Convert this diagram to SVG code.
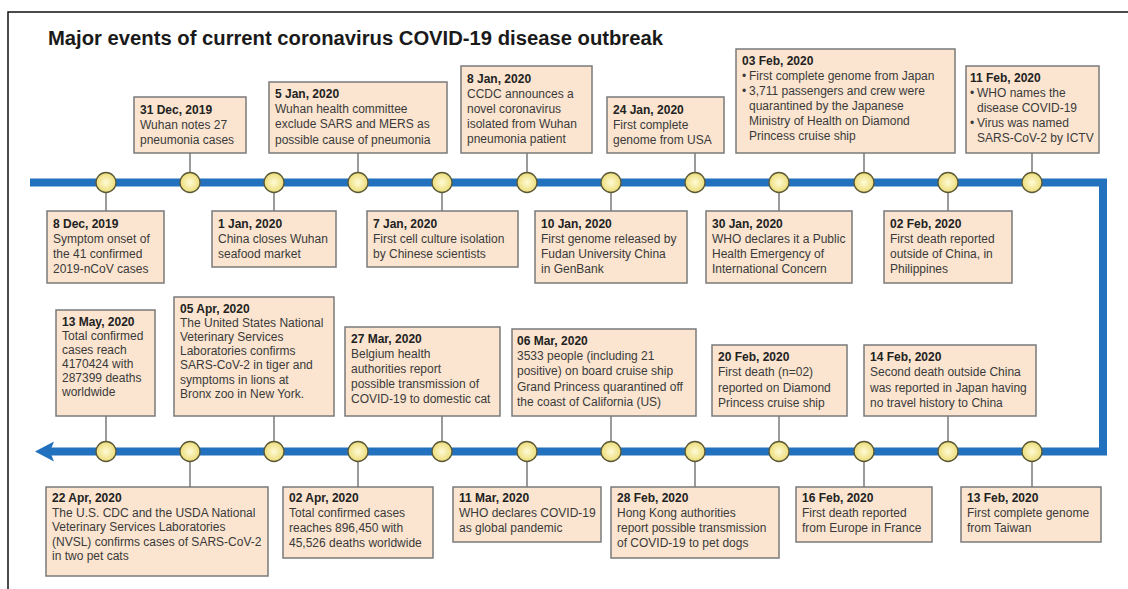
<svg xmlns="http://www.w3.org/2000/svg" width="1128" height="589" viewBox="0 0 1128 589">
<defs>
<radialGradient id="dot" cx="50%" cy="50%" r="50%">
<stop offset="0" stop-color="#fffbd6"/>
<stop offset="1" stop-color="#ecdc78"/>
</radialGradient>
<style>
.bx{fill:#fbe5d0;stroke:#7a7a7a;stroke-width:1.5}
.t{font-family:"Liberation Sans",Arial,sans-serif;font-size:12px;fill:#3a3a3a}
.d{font-weight:bold;fill:#222}
.c{stroke:#666;stroke-width:1.3;fill:none}
.dt{fill:url(#dot);stroke:#5a5836;stroke-width:1.3}
.tl{fill:none;stroke:#2171be;stroke-width:8}
</style>
</defs>
<rect width="1128" height="589" fill="#fff"/>
<path d="M8,589 V12 H1128" fill="none" stroke="#111" stroke-width="1.5"/>
<text x="48" y="45" font-family="Liberation Sans,Arial,sans-serif" font-weight="bold" font-size="20" fill="#1a1a1a" textLength="615" lengthAdjust="spacingAndGlyphs">Major events of current coronavirus COVID-19 disease outbreak</text>

<g id="timeline">
<path class="tl" d="M30,182.5 H1103 V451.5 H50"/>
<polygon points="35,451.5 54,441.5 50,451.5 54,461.5" fill="#2171be"/>
</g>

<g id="connectors">
<path class="c" d="M190,153 V182 M358,153 V182 M527,153 V182 M695,153 V182 M864,153 V182 M1032,153 V182"/>
<path class="c" d="M106,182 V211 M274,182 V211 M442,182 V211 M611,182 V211 M779,182 V211 M948,182 V211"/>
<path class="c" d="M106,416 V451 M274,416 V451 M442,416 V451 M611,416 V451 M779,416 V451 M948,416 V451"/>
<path class="c" d="M190,451 V487 M358,451 V487 M527,451 V487 M695,451 V487 M864,451 V487 M1032,451 V487"/>
</g>

<g id="dots">
<circle class="dt" cx="106" cy="182.5" r="10"/><circle class="dt" cx="190" cy="182.5" r="10"/><circle class="dt" cx="274" cy="182.5" r="10"/><circle class="dt" cx="358" cy="182.5" r="10"/><circle class="dt" cx="442" cy="182.5" r="10"/><circle class="dt" cx="527" cy="182.5" r="10"/><circle class="dt" cx="611" cy="182.5" r="10"/><circle class="dt" cx="695" cy="182.5" r="10"/><circle class="dt" cx="779" cy="182.5" r="10"/><circle class="dt" cx="864" cy="182.5" r="10"/><circle class="dt" cx="948" cy="182.5" r="10"/><circle class="dt" cx="1032" cy="182.5" r="10"/>
<circle class="dt" cx="106" cy="451.5" r="10"/><circle class="dt" cx="190" cy="451.5" r="10"/><circle class="dt" cx="274" cy="451.5" r="10"/><circle class="dt" cx="358" cy="451.5" r="10"/><circle class="dt" cx="442" cy="451.5" r="10"/><circle class="dt" cx="527" cy="451.5" r="10"/><circle class="dt" cx="611" cy="451.5" r="10"/><circle class="dt" cx="695" cy="451.5" r="10"/><circle class="dt" cx="779" cy="451.5" r="10"/><circle class="dt" cx="864" cy="451.5" r="10"/><circle class="dt" cx="948" cy="451.5" r="10"/><circle class="dt" cx="1032" cy="451.5" r="10"/>
</g>

<g id="n-31dec"><rect class="bx" x="134" y="97" width="112" height="56"/>
<text class="t" y="113.5"><tspan class="d" x="140">31 Dec, 2019</tspan><tspan x="140" dy="15.2">Wuhan notes 27</tspan><tspan x="140" dy="15.2">pneumonia cases</tspan></text></g>

<g id="n-5jan"><rect class="bx" x="269" y="82" width="178" height="71"/>
<text class="t" y="98"><tspan class="d" x="275">5 Jan, 2020</tspan><tspan x="275" dy="15.2">Wuhan health committee</tspan><tspan x="275" dy="15.2">exclude SARS and MERS as</tspan><tspan x="275" dy="15.2">possible cause of pneumonia</tspan></text></g>

<g id="n-8jan"><rect class="bx" x="461" y="66" width="131" height="87"/>
<text class="t" y="82.5"><tspan class="d" x="467">8 Jan, 2020</tspan><tspan x="467" dy="15.2">CCDC announces a</tspan><tspan x="467" dy="15.2">novel coronavirus</tspan><tspan x="467" dy="15.2">isolated from Wuhan</tspan><tspan x="467" dy="15.2">pneumonia patient</tspan></text></g>

<g id="n-24jan"><rect class="bx" x="607" y="97" width="117" height="56"/>
<text class="t" y="113.5"><tspan class="d" x="613">24 Jan, 2020</tspan><tspan x="613" dy="15.2">First complete</tspan><tspan x="613" dy="15.2">genome from USA</tspan></text></g>

<g id="n-03feb"><rect class="bx" x="736" y="49" width="219" height="104"/>
<text class="t" y="65"><tspan class="d" x="742">03 Feb, 2020</tspan><tspan x="742" dy="15">•</tspan><tspan x="749">First complete genome from Japan</tspan><tspan x="742" dy="15">•</tspan><tspan x="749">3,711 passengers and crew were</tspan><tspan x="749" dy="15">quarantined by the Japanese</tspan><tspan x="749" dy="15">Ministry of Health on Diamond</tspan><tspan x="749" dy="15">Princess cruise ship</tspan></text></g>

<g id="n-11feb"><rect class="bx" x="966" y="66" width="133" height="87"/>
<text class="t" y="82"><tspan class="d" x="970">11 Feb, 2020</tspan><tspan x="970" dy="15">•</tspan><tspan x="977">WHO names the</tspan><tspan x="977" dy="15">disease COVID-19</tspan><tspan x="970" dy="15">•</tspan><tspan x="977">Virus was named</tspan><tspan x="977" dy="15">SARS-CoV-2 by ICTV</tspan></text></g>

<g id="n-8dec"><rect class="bx" x="47" y="211" width="117" height="72"/>
<text class="t" y="227.5"><tspan class="d" x="53">8 Dec, 2019</tspan><tspan x="53" dy="15.2">Symptom onset of</tspan><tspan x="53" dy="15.2">the 41 confirmed</tspan><tspan x="53" dy="15.2">2019-nCoV cases</tspan></text></g>

<g id="n-1jan"><rect class="bx" x="212" y="211" width="124" height="56"/>
<text class="t" y="227.5"><tspan class="d" x="218">1 Jan, 2020</tspan><tspan x="218" dy="15.2">China closes Wuhan</tspan><tspan x="218" dy="15.2">seafood market</tspan></text></g>

<g id="n-7jan"><rect class="bx" x="367" y="211" width="151" height="56"/>
<text class="t" y="227.5"><tspan class="d" x="373">7 Jan, 2020</tspan><tspan x="373" dy="15.2">First cell culture isolation</tspan><tspan x="373" dy="15.2">by Chinese scientists</tspan></text></g>

<g id="n-10jan"><rect class="bx" x="535" y="211" width="152" height="72"/>
<text class="t" y="227.5"><tspan class="d" x="541">10 Jan, 2020</tspan><tspan x="541" dy="15.2">First genome released by</tspan><tspan x="541" dy="15.2">Fudan University China</tspan><tspan x="541" dy="15.2">in GenBank</tspan></text></g>

<g id="n-30jan"><rect class="bx" x="706" y="211" width="146" height="72"/>
<text class="t" y="227.5"><tspan class="d" x="712">30 Jan, 2020</tspan><tspan x="712" dy="15.2">WHO declares it a Public</tspan><tspan x="712" dy="15.2">Health Emergency of</tspan><tspan x="712" dy="15.2">International Concern</tspan></text></g>

<g id="n-02feb"><rect class="bx" x="884" y="211" width="128" height="72"/>
<text class="t" y="227.5"><tspan class="d" x="890">02 Feb, 2020</tspan><tspan x="890" dy="15.2">First death reported</tspan><tspan x="890" dy="15.2">outside of China, in</tspan><tspan x="890" dy="15.2">Philippines</tspan></text></g>

<g id="n-13may"><rect class="bx" x="56" y="310" width="99" height="106"/>
<text class="t" y="326"><tspan class="d" x="62">13 May, 2020</tspan><tspan x="62" dy="14">Total confirmed</tspan><tspan x="62" dy="14">cases reach</tspan><tspan x="62" dy="14">4170424 with</tspan><tspan x="62" dy="14">287399 deaths</tspan><tspan x="62" dy="14">worldwide</tspan></text></g>

<g id="n-05apr"><rect class="bx" x="174" y="297" width="160" height="119"/>
<text class="t" y="312.5"><tspan class="d" x="180">05 Apr, 2020</tspan><tspan x="180" dy="14.2">The United States National</tspan><tspan x="180" dy="14.2">Veterinary Services</tspan><tspan x="180" dy="14.2">Laboratories confirms</tspan><tspan x="180" dy="14.2">SARS-CoV-2 in tiger and</tspan><tspan x="180" dy="14.2">symptoms in lions at</tspan><tspan x="180" dy="14.2">Bronx zoo in New York.</tspan></text></g>

<g id="n-27mar"><rect class="bx" x="345" y="327" width="155" height="89"/>
<text class="t" y="343"><tspan class="d" x="351">27 Mar, 2020</tspan><tspan x="351" dy="15">Belgium health</tspan><tspan x="351" dy="15">authorities report</tspan><tspan x="351" dy="15">possible transmission of</tspan><tspan x="351" dy="15">COVID-19 to domestic cat</tspan></text></g>

<g id="n-06mar"><rect class="bx" x="512" y="329" width="184" height="87"/>
<text class="t" y="344.5"><tspan class="d" x="517">06 Mar, 2020</tspan><tspan x="517" dy="15.4">3533 people (including 21</tspan><tspan x="517" dy="15.4">positive) on board cruise ship</tspan><tspan x="517" dy="15.4">Grand Princess quarantined off</tspan><tspan x="517" dy="15.4">the coast of California (US)</tspan></text></g>

<g id="n-20feb"><rect class="bx" x="712" y="345" width="135" height="71"/>
<text class="t" y="361"><tspan class="d" x="718">20 Feb, 2020</tspan><tspan x="718" dy="15.3">First death (n=02)</tspan><tspan x="718" dy="15.3">reported on Diamond</tspan><tspan x="718" dy="15.3">Princess cruise ship</tspan></text></g>

<g id="n-14feb"><rect class="bx" x="864" y="345" width="172" height="71"/>
<text class="t" y="361"><tspan class="d" x="870">14 Feb, 2020</tspan><tspan x="870" dy="15.3">Second death outside China</tspan><tspan x="870" dy="15.3">was reported in Japan having</tspan><tspan x="870" dy="15.3">no travel history to China</tspan></text></g>

<g id="n-22apr"><rect class="bx" x="46" y="487" width="222" height="89"/>
<text class="t" y="502"><tspan class="d" x="52">22 Apr, 2020</tspan><tspan x="52" dy="14.5">The U.S. CDC and the USDA National</tspan><tspan x="52" dy="14.5">Veterinary Services Laboratories</tspan><tspan x="52" dy="14.5">(NVSL) confirms cases of SARS-CoV-2</tspan><tspan x="52" dy="14.5">in two pet cats</tspan></text></g>

<g id="n-02apr"><rect class="bx" x="283" y="487" width="150" height="71"/>
<text class="t" y="502"><tspan class="d" x="289">02 Apr, 2020</tspan><tspan x="289" dy="15">Total confirmed cases</tspan><tspan x="289" dy="15">reaches 896,450 with</tspan><tspan x="289" dy="15">45,526 deaths worldwide</tspan></text></g>

<g id="n-11mar"><rect class="bx" x="453" y="487" width="148" height="55"/>
<text class="t" y="502"><tspan class="d" x="459">11 Mar, 2020</tspan><tspan x="459" dy="15">WHO declares COVID-19</tspan><tspan x="459" dy="15">as global pandemic</tspan></text></g>

<g id="n-28feb"><rect class="bx" x="611" y="487" width="168" height="71"/>
<text class="t" y="502"><tspan class="d" x="617">28 Feb, 2020</tspan><tspan x="617" dy="15">Hong Kong authorities</tspan><tspan x="617" dy="15">report possible transmission</tspan><tspan x="617" dy="15">of COVID-19 to pet dogs</tspan></text></g>

<g id="n-16feb"><rect class="bx" x="796" y="487" width="136" height="55"/>
<text class="t" y="502"><tspan class="d" x="802">16 Feb, 2020</tspan><tspan x="802" dy="15">First death reported</tspan><tspan x="802" dy="15">from Europe in France</tspan></text></g>

<g id="n-13feb"><rect class="bx" x="961" y="487" width="140" height="55"/>
<text class="t" y="502"><tspan class="d" x="967">13 Feb, 2020</tspan><tspan x="967" dy="15">First complete genome</tspan><tspan x="967" dy="15">from Taiwan</tspan></text></g>
</svg>
